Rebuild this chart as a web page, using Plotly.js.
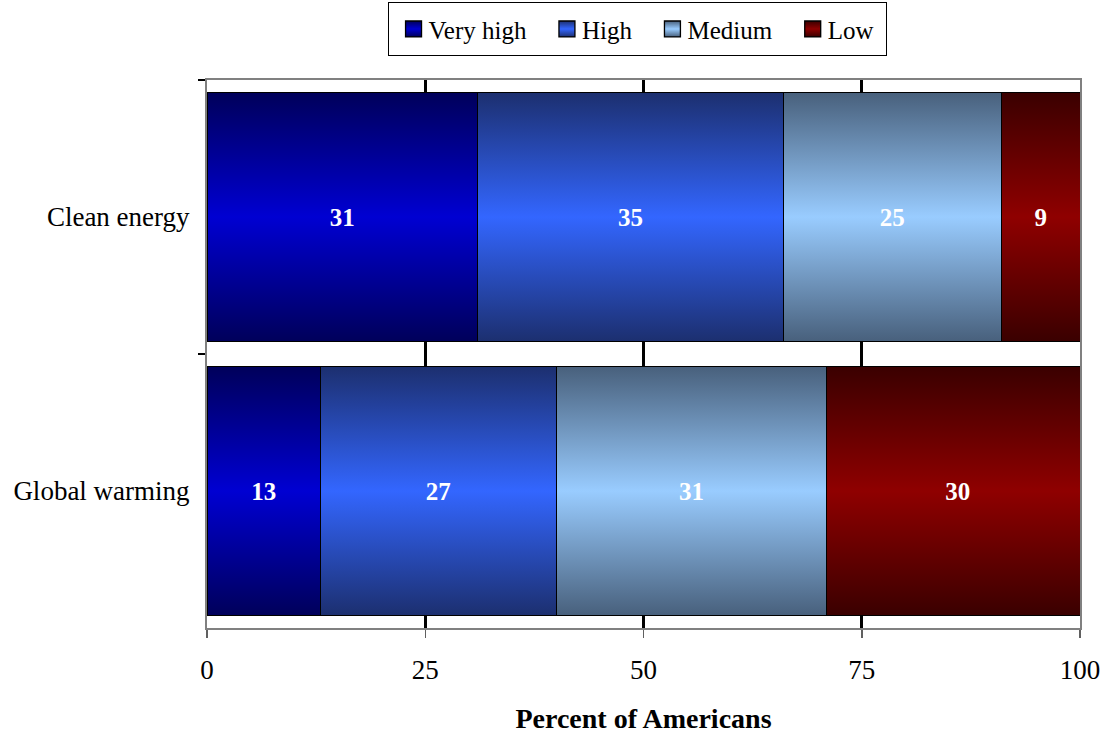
<!DOCTYPE html>
<html>
<head>
<meta charset="utf-8">
<script src="https://cdn.plot.ly/plotly-3.0.1.min.js"></script>
<style>
html,body{margin:0;padding:0;background:#fff;}
#chart{width:1107px;height:734px;}
</style>
</head>
<body>
<div id="chart"></div>
<script>
// ---- data ----
const categories = ['Clean energy', 'Global warming'];
const seriesNames = ['Very high', 'High', 'Medium', 'Low'];
const veryHigh = [31, 13];
const high = [35, 27];
const medium = [25, 31];
const low = [9, 30];
const xTicks = [0, 25, 50, 75, 100];

// ---- styles ----
const centerColors = ['#0000d2', '#3366ff', '#99ccff', '#8f0000'];
const edgeColors = ['#00005a', '#1c2f6f', '#48607c', '#3a0000'];
const FONT = 'Liberation Serif, Times New Roman, serif';

const seriesValues = [veryHigh, high, medium, low];
const traces = seriesNames.map((name, i) => ({
  type: 'bar',
  orientation: 'h',
  name: name,
  y: categories,
  x: seriesValues[i],
  text: seriesValues[i].map(String),
  textposition: 'inside',
  insidetextanchor: 'middle',
  textangle: 0,
  textfont: {family: FONT, size: 25, color: '#ffffff', weight: 'bold'},
  marker: {color: centerColors[i], line: {color: '#000000', width: 1}},
  hoverinfo: 'none'
}));

const layout = {
  width: 1107,
  height: 734,
  barmode: 'stack',
  bargap: 0.09,
  paper_bgcolor: '#ffffff',
  plot_bgcolor: '#ffffff',
  margin: {l: 207, r: 27, t: 80, b: 106},
  font: {family: FONT, size: 27, color: '#000000'},
  showlegend: true,
  legend: {
    orientation: 'h',
    x: 0.4926, xanchor: 'center',
    yref: 'container', y: 0.997, yanchor: 'top',
    bordercolor: '#000000', borderwidth: 1,
    bgcolor: '#ffffff',
    font: {family: FONT, size: 25, color: '#000000'},
    traceorder: 'normal'
  },
  xaxis: {
    range: [0, 100],
    automargin: false,
    tickvals: xTicks,
    ticktext: xTicks.map(String),
    ticks: 'outside', ticklen: 8, tickwidth: 1.5, tickcolor: '#606060',
    ticklabelstandoff: 9,
    showline: true, linecolor: '#808080', linewidth: 2, mirror: true,
    showgrid: true, gridcolor: '#000000', gridwidth: 3,
    zeroline: false,
    tickfont: {family: FONT, size: 27, color: '#000000'},
    title: {text: '<b>Percent of Americans</b>', standoff: 26,
            font: {family: FONT, size: 28, color: '#000000'}}
  },
  yaxis: {
    type: 'category',
    automargin: false,
    autorange: 'reversed',
    tickson: 'boundaries',
    ticks: 'outside', ticklen: 7, tickwidth: 1.5, tickcolor: '#000000',
    ticklabelstandoff: 10,
    showline: true, linecolor: '#808080', linewidth: 2, mirror: true,
    showgrid: false, zeroline: false,
    tickfont: {family: FONT, size: 27, color: '#000000'}
  }
};

function parseTranslate(s) {
  const m = /translate\(\s*([-\d.e]+)[ ,]+([-\d.e]+)\s*\)/.exec(s || '');
  return m ? [parseFloat(m[1]), parseFloat(m[2])] : null;
}

function applyGradients(gd) {
  const svg = gd.querySelector('svg.main-svg');
  const ns = 'http://www.w3.org/2000/svg';
  let defs = svg.querySelector('defs');
  if (!defs) { defs = document.createElementNS(ns, 'defs'); svg.insertBefore(defs, svg.firstChild); }
  centerColors.forEach((c, i) => {
    const g = document.createElementNS(ns, 'linearGradient');
    g.setAttribute('id', 'barGrad' + i);
    g.setAttribute('x1', '0'); g.setAttribute('y1', '0');
    g.setAttribute('x2', '0'); g.setAttribute('y2', '1');
    [[0, edgeColors[i]], [0.5, c], [1, edgeColors[i]]].forEach(([o, col]) => {
      const s = document.createElementNS(ns, 'stop');
      s.setAttribute('offset', o);
      s.setAttribute('stop-color', col);
      g.appendChild(s);
    });
    defs.appendChild(g);
  });
  const barTraces = gd.querySelectorAll('.barlayer .trace');
  barTraces.forEach((t, i) => {
    t.querySelectorAll('.point path').forEach(p => { p.style.fill = 'url(#barGrad' + i + ')'; });
  });
  const legTraces = gd.querySelectorAll('.legend .traces');
  const extra = 10, textShift = 5, padV = 3, leftShift = 5, addW = 37;
  legTraces.forEach((t, i) => {
    t.querySelectorAll('.legendpoints path').forEach(p => {
      p.style.fill = 'url(#barGrad' + i + ')';
      p.style.stroke = '#000000';
      const tr = p.getAttribute('transform') || '';
      p.setAttribute('transform', tr + ' scale(1.33)');
    });
    const txt = t.querySelector('text.legendtext');
    if (txt) {
      const x0 = parseFloat(txt.getAttribute('x') || '40');
      txt.setAttribute('x', x0 - textShift);
    }
    const pt = parseTranslate(t.getAttribute('transform'));
    if (pt) t.setAttribute('transform', 'translate(' + (pt[0] + i * extra) + ',' + (pt[1] + padV) + ')');
  });
  // widen legend box to keep items spaced like the original
  const leg = gd.querySelector('g.legend');
  if (leg) {
    const bg = leg.querySelector('rect.bg');
    if (bg) {
      const w = parseFloat(bg.getAttribute('width'));
      const h = parseFloat(bg.getAttribute('height'));
      bg.setAttribute('width', w + addW);
      bg.setAttribute('height', h + 2 * padV);
    }
    const lt = parseTranslate(leg.getAttribute('transform'));
    if (lt) leg.setAttribute('transform', 'translate(' + (lt[0] - addW / 2) + ',' + lt[1] + ')');
    const sb = leg.querySelector('g.scrollbox');
    if (sb) {
      const st = parseTranslate(sb.getAttribute('transform')) || [0, 0];
      sb.setAttribute('transform', 'translate(' + (st[0] + leftShift) + ',' + st[1] + ')');
    }
    const clip = document.querySelector('clipPath[id^="legend"] rect');
    if (clip) {
      clip.setAttribute('width', parseFloat(clip.getAttribute('width')) + addW);
      clip.setAttribute('height', parseFloat(clip.getAttribute('height')) + 2 * padV);
    }
  }
}

Plotly.newPlot('chart', traces, layout, {displayModeBar: false, staticPlot: true})
  .then(gd => applyGradients(gd));
</script>
</body>
</html>
